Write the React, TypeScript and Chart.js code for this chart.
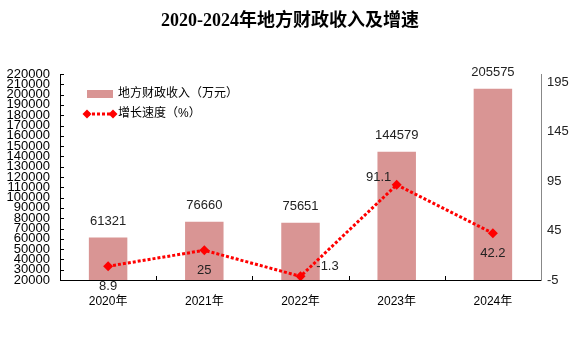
import React, { useEffect, useRef } from "react";
import { Chart, registerables } from "chart.js";

Chart.register(...registerables);

const TITLE = "2020-2024年地方财政收入及增速";
const years = ["2020年", "2021年", "2022年", "2023年", "2024年"];
const revenue = [61321, 76660, 75651, 144579, 205575];
const growth = [8.9, 25, -1.3, 91.1, 42.2];
const rightTicks = [-5, 45, 95, 145, 195];
const revenueLabel = "地方财政收入（万元）";
const growthLabel = "增长速度（%）";
const growthLabelPlacement = ["below", "below", "right", "aboveLeft", "below"];

const BAR_COLOR = "#D99594";
const LINE_COLOR = "#FF0000";
const NUM_FONT = "'Liberation Sans', Arial, sans-serif";
const CJK_FONT = "'Liberation Sans', 'Noto Sans CJK SC', sans-serif";

function drawDiamond(ctx: CanvasRenderingContext2D, x: number, y: number, r: number) {
  ctx.beginPath();
  ctx.moveTo(x, y - r);
  ctx.lineTo(x + r, y);
  ctx.lineTo(x, y + r);
  ctx.lineTo(x - r, y);
  ctx.closePath();
  ctx.fill();
}

const decorPlugin = {
  id: "decor",
  afterDatasetsDraw(chart: any) {
    const ctx: CanvasRenderingContext2D = chart.ctx;
    ctx.save();
    const barMeta = chart.getDatasetMeta(0);
    ctx.fillStyle = "#222";
    ctx.font = `13px ${NUM_FONT}`;
    ctx.textAlign = "center";
    ctx.textBaseline = "middle";
    barMeta.data.forEach((el: any, i: number) => {
      ctx.fillText(String(revenue[i]), el.x, el.y - 16);
    });
    const lineMeta = chart.getDatasetMeta(1);
    lineMeta.data.forEach((el: any, i: number) => {
      const p = growthLabelPlacement[i];
      let dx = 0, dy = 20;
      if (p === "right") { dx = 27; dy = -10; }
      if (p === "aboveLeft") { dx = -18; dy = -7; }
      ctx.fillText(String(growth[i]), el.x + dx, el.y + dy);
    });
    ctx.restore();
  },
  afterDraw(chart: any) {
    const ctx: CanvasRenderingContext2D = chart.ctx;
    const area = chart.chartArea;
    ctx.save();
    ctx.fillStyle = "#000";
    ctx.font = `bold 18px 'Liberation Serif', 'Noto Sans CJK SC', serif`;
    ctx.textAlign = "center";
    ctx.textBaseline = "middle";
    ctx.fillText(TITLE, 290, 21);

    const y = chart.scales.y;
    ctx.strokeStyle = "#000";
    ctx.lineWidth = 1;
    y.ticks.forEach((t: any) => {
      const py = Math.round(y.getPixelForValue(t.value)) + 0.5;
      ctx.beginPath();
      ctx.moveTo(area.left, py);
      ctx.lineTo(area.left + 4, py);
      ctx.stroke();
    });
    const x = chart.scales.x;
    for (let i = 1; i < years.length; i++) {
      const px = Math.round((x.getPixelForValue(i - 1) + x.getPixelForValue(i)) / 2) + 0.5;
      ctx.beginPath();
      ctx.moveTo(px, area.bottom);
      ctx.lineTo(px, area.bottom - 4);
      ctx.stroke();
    }

    const lx = 87;
    ctx.fillStyle = BAR_COLOR;
    ctx.fillRect(lx, 90, 26, 8);
    ctx.fillStyle = "#000";
    ctx.font = `12px ${CJK_FONT}`;
    ctx.textAlign = "left";
    ctx.textBaseline = "middle";
    ctx.fillText(revenueLabel, 118, 94);

    ctx.strokeStyle = LINE_COLOR;
    ctx.lineWidth = 3;
    ctx.setLineDash([3, 2]);
    ctx.beginPath();
    ctx.moveTo(lx, 114);
    ctx.lineTo(lx + 26, 114);
    ctx.stroke();
    ctx.setLineDash([]);
    ctx.fillStyle = LINE_COLOR;
    drawDiamond(ctx, lx, 114, 4.5);
    drawDiamond(ctx, lx + 26, 114, 4.5);
    ctx.fillStyle = "#000";
    ctx.fillText(growthLabel, 118, 114);
    ctx.restore();
  },
};

export default function App() {
  const canvasRef = useRef<HTMLCanvasElement | null>(null);

  useEffect(() => {
    if (!canvasRef.current) return;
    const chart = new Chart(canvasRef.current, {
      type: "bar",
      data: {
        labels: years,
        datasets: [
          {
            type: "bar",
            label: revenueLabel,
            data: revenue,
            backgroundColor: BAR_COLOR,
            borderWidth: 0,
            barPercentage: 0.8,
            categoryPercentage: 0.5,
            yAxisID: "y",
            order: 2,
          },
          {
            type: "line",
            label: growthLabel,
            data: growth,
            borderColor: LINE_COLOR,
            backgroundColor: LINE_COLOR,
            borderWidth: 3,
            borderDash: [3, 2],
            pointStyle: "rectRot",
            pointRadius: 5,
            pointBackgroundColor: LINE_COLOR,
            pointBorderWidth: 0,
            tension: 0,
            yAxisID: "y1",
            order: 1,
          },
        ],
      },
      options: {
        responsive: false,
        animation: false,
        events: [],
        layout: { padding: { top: 74, left: 0, right: 0, bottom: 0 } },
        plugins: {
          legend: { display: false },
          title: { display: false },
          tooltip: { enabled: false },
        },
        scales: {
          x: {
            offset: true,
            grid: { display: false, drawTicks: false },
            border: { display: true, color: "#000", width: 1 },
            ticks: {
              color: "#000",
              font: { size: 12, family: CJK_FONT },
              padding: 14,
              maxRotation: 0,
            },
            afterFit: (s: any) => { s.height = 74; },
          },
          y: {
            position: "left",
            min: 20000,
            max: 220000,
            grid: { display: false, drawTicks: false },
            border: { display: true, color: "#000", width: 1 },
            ticks: {
              stepSize: 10000,
              autoSkip: false,
              color: "#000",
              padding: 10,
              font: { size: 13, family: NUM_FONT },
              callback: (v: any) => String(v),
            },
            afterFit: (s: any) => { s.width = 60; },
          },
          y1: {
            position: "right",
            min: -5,
            max: 203,
            grid: { display: false, drawTicks: false },
            border: { display: true, color: "#888", width: 1 },
            afterBuildTicks: (s: any) => {
              s.ticks = rightTicks.map((v) => ({ value: v }));
            },
            ticks: {
              autoSkip: false,
              color: "#222",
              padding: 6,
              font: { size: 13, family: NUM_FONT },
            },
            afterFit: (s: any) => { s.width = 35; },
          },
        },
      },
      plugins: [decorPlugin],
    } as any);
    return () => chart.destroy();
  }, []);

  return (
    <div style={{ position: "fixed", left: 0, top: 0, width: 576, height: 354, background: "#fff" }}>
      <canvas ref={canvasRef} width={576} height={354} />
    </div>
  );
}
